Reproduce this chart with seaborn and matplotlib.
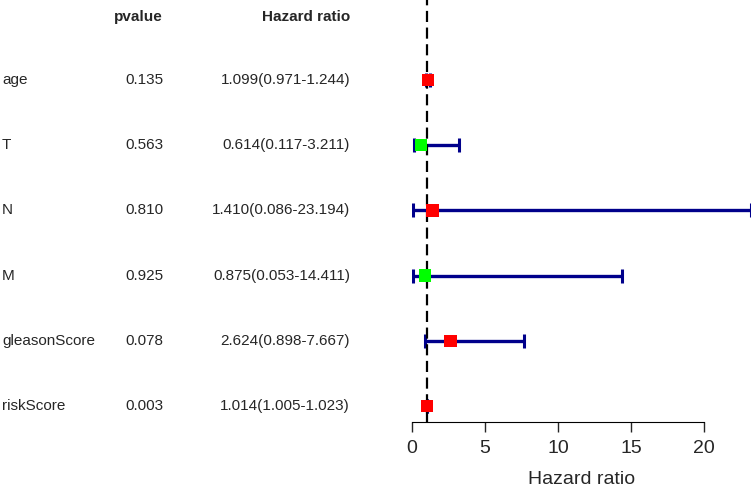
import pandas as pd
import matplotlib.pyplot as plt
import matplotlib.transforms as mtransforms
import seaborn as sns

# Dữ liệu
labels = ["age", "T", "N", "M", "gleasonScore", "riskScore"]
pvals = ["0.135", "0.563", "0.810", "0.925", "0.078", "0.003"]
hr = [1.099, 0.614, 1.410, 0.875, 2.624, 1.014]
low = [0.971, 0.117, 0.086, 0.053, 0.898, 1.005]
high = [1.244, 3.211, 23.194, 14.411, 7.667, 1.023]
xticks = [0, 5, 10, 15, 20]

df = pd.DataFrame({"label": labels, "pvalue": pvals, "hr": hr, "low": low, "high": high})
df["row"] = list(range(len(df), 0, -1))
df["dir"] = ["up" if v > 1 else "down" for v in df["hr"]]
df["txt"] = [f"{h:.3f}({l:.3f}-{u:.3f})" for h, l, u in zip(df["hr"], df["low"], df["high"])]

sns.set_style("white")
plt.rcParams["font.family"] = ["Liberation Sans", "DejaVu Sans"]

fig = plt.figure(figsize=(7.51, 4.90), dpi=100)
ax = fig.add_axes([412 / 751, 68 / 490, 338.6 / 751, 422 / 490])

# Khoảng tin cậy
ax.errorbar(df["hr"], df["row"], xerr=[df["hr"] - df["low"], df["high"] - df["hr"]],
            fmt="none", ecolor="#00008B", elinewidth=2.4, capsize=4.8, capthick=2.2, zorder=2)
ax.axvline(1, color="black", lw=1.6, dashes=(5, 2.5), zorder=3)
sns.scatterplot(x="hr", y="row", data=df, hue="dir", palette={"up": "#FF0000", "down": "#00FF00"},
                marker="s", s=80, linewidth=0, legend=False, ax=ax, zorder=4)

ax.set_xlim(0, 23.194)
ax.set_ylim(1 - 16 / 65.2, 6 + 80 / 65.2)
ax.set_yticks([])
ax.set_xticks(xticks)
ax.tick_params(axis="x", direction="out", length=7, width=1, labelsize=14, pad=6, bottom=True)
for s in ["top", "right", "left"]:
    ax.spines[s].set_visible(False)
ax.spines["bottom"].set_bounds(0, 20)
ax.spines["bottom"].set_color("black")
ax.set_xlabel("Hazard ratio", fontsize=14, labelpad=10)
ax.set_ylabel("")

# Bảng bên trái
tr = mtransforms.blended_transform_factory(fig.transFigure, ax.transData)
ax.text(163 / 751, 6.97, "pvalue", transform=tr, ha="right", va="center", fontsize=11, fontweight="bold")
ax.text(350 / 751, 6.97, "Hazard ratio", transform=tr, ha="right", va="center", fontsize=11, fontweight="bold")
for _, r in df.iterrows():
    ax.text(2 / 751, r["row"], r["label"], transform=tr, ha="left", va="center", fontsize=11)
    ax.text(163 / 751, r["row"], r["pvalue"], transform=tr, ha="right", va="center", fontsize=11)
    ax.text(350 / 751, r["row"], r["txt"], transform=tr, ha="right", va="center", fontsize=11)

plt.savefig("out.png", dpi=100)
